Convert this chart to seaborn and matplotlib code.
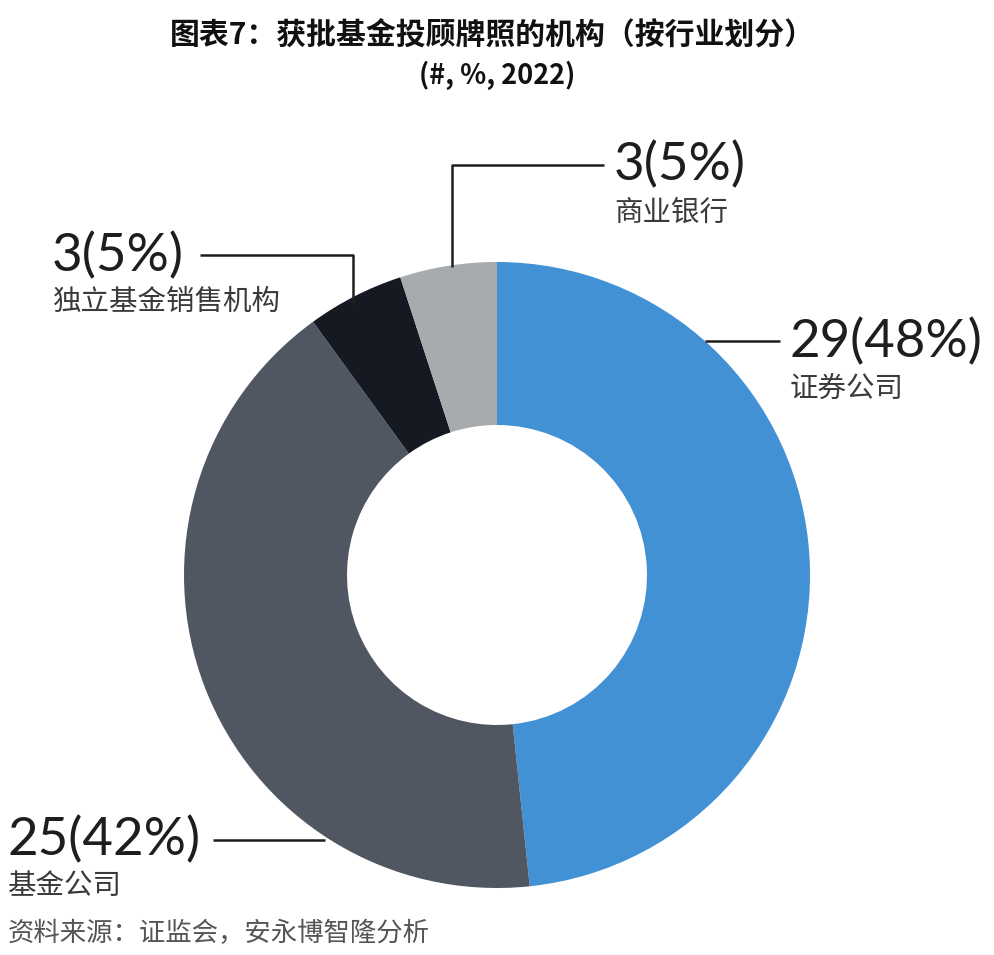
import matplotlib
matplotlib.use("Agg")
import matplotlib.pyplot as plt
import seaborn as sns

# data
categories = ['证券公司', '基金公司', '独立基金销售机构', '商业银行']
counts = [29, 25, 3, 3]
pct_labels = ['48%', '42%', '5%', '5%']
colors = ['#4391d5', '#505662', '#151922', '#a7abae']

W, H = 995, 955

sns.set_theme(style='white')
plt.rcParams['font.family'] = ['Lato', 'Noto Sans CJK SC', 'DejaVu Sans']

fig = plt.figure(figsize=(W / 100, H / 100), dpi=100)
ax = fig.add_axes([0, 0, 1, 1])
ax.set_xlim(0, W)
ax.set_ylim(0, H)
ax.axis('off')


def Y(py):
    return H - py


# donut
ax.pie(counts, colors=colors, startangle=90, counterclock=False,
       center=(497, Y(575)), radius=313, frame=False,
       wedgeprops=dict(width=163, linewidth=0))
ax.set_xlim(0, W)
ax.set_ylim(0, H)
ax.set_aspect('equal')

# leader lines and labels (pixel positions of text/lines)
line_kw = dict(color='#1e1e1e', lw=1.8, solid_capstyle='butt')
num_kw = dict(fontsize=38, color='#1e1e1e', family=['Lato', 'DejaVu Sans'],
              weight='normal', va='center')
cat_kw = dict(fontsize=20.5, color='#3a3a3a', family=['Noto Sans CJK SC', 'DejaVu Sans'],
              weight='light', va='center')

label_pos = {
    '证券公司': (790, 342, 389),
    '基金公司': (8, 840, 886),
    '独立基金销售机构': (52, 256, 302),
    '商业银行': (614, 165, 213),
}
leaders = {
    '证券公司': [(705, 341), (780, 341)],
    '基金公司': [(325, 840), (213, 840)],
    '独立基金销售机构': [(353, 305), (353, 255), (200, 255)],
    '商业银行': [(452, 267), (452, 165), (604, 165)],
}

for cat, n, p in zip(categories, counts, pct_labels):
    pts = leaders[cat]
    ax.plot([q[0] for q in pts], [Y(q[1]) for q in pts], **line_kw)
    x, y1, y2 = label_pos[cat]
    ax.text(x, Y(y1), f'{n}({p})', ha='left', **num_kw)
    ax.text(x, Y(y2), cat, ha='left', **cat_kw)

# title
fig.text(492 / W, 1 - 36 / H, '图表7：获批基金投顾牌照的机构（按行业划分）',
         ha='center', va='center', fontsize=21.5, weight='bold', color='#111111',
         family=['Noto Sans CJK SC', 'DejaVu Sans'])
fig.text(497 / W, 1 - 75 / H, '(#, %, 2022)',
         ha='center', va='center', fontsize=19.5, weight='bold', color='#111111',
         family=['Noto Sans CJK SC', 'DejaVu Sans'])

# source
fig.text(8 / W, 1 - 933 / H, '资料来源：证监会，安永博智隆分析',
         ha='left', va='center', fontsize=19, style='italic', color='#555555',
         family=['Noto Sans CJK SC', 'DejaVu Sans'], weight='light')

fig.savefig('out.png', dpi=100, facecolor='white')
